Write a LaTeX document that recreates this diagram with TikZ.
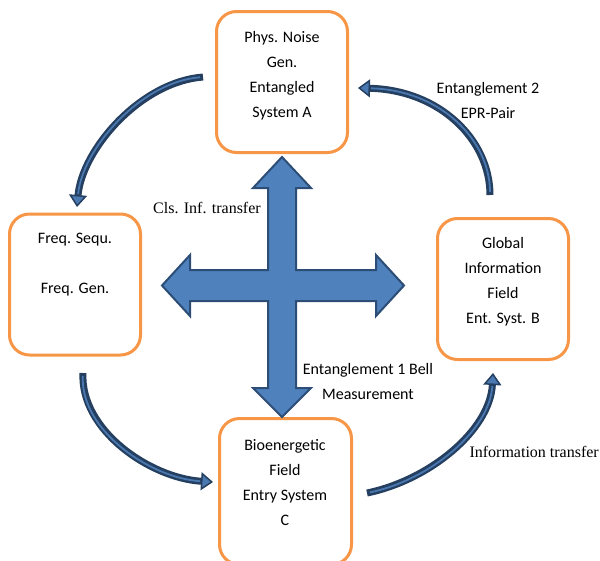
\documentclass[tikz,border=0pt]{standalone}
\usepackage{fontspec}
\setmainfont{Carlito}
\newfontfamily\serifl{Liberation Serif}
\usetikzlibrary{arrows.meta}
\definecolor{boxorange}{HTML}{F79646}
\definecolor{crossfill}{HTML}{4F81BD}
\definecolor{crossline}{HTML}{2C4D75}
\definecolor{curvedark}{HTML}{243F60}
\definecolor{curvelight}{HTML}{4A78B0}
\begin{document}
\begin{tikzpicture}[x=1pt,y=-1pt,
  box/.style={draw=boxorange, line width=3pt, rounded corners=20pt, fill=white,
    minimum width=131pt, minimum height=141pt, inner sep=0pt},
  boxtext/.style={font=\fontsize{16}{25}\selectfont, align=center, inner sep=0pt},
  lbl/.style={font=\fontsize{16}{25}\selectfont, align=center, inner sep=0pt},
  serlbl/.style={font=\serifl\fontsize{16}{19}\selectfont, inner sep=0pt},
  curvebody/.style={draw=curvedark, line width=7pt,
    -{Triangle[length=12pt,width=18pt,line width=1.5pt,fill=curvelight]}},
  curvehl/.style={draw=curvelight, line width=1.8pt, shorten >=13pt, shorten <=3pt},
]
\useasboundingbox (0,0) rectangle (600,560);

% boxes
\node[box] (A) at (282,82) {};
\node[box] (L) at (75,284.5) {};
\node[box] (R) at (503,289) {};
\node[box, minimum width=132pt, minimum height=146pt] (C) at (285.5,491.5) {};

% box texts
\node[boxtext] (tA) at (282,76) {Phys. Noise\\Gen.\\Entangled\\System A};
\node[boxtext] (tL) at (75,265) {Freq. Sequ.\\[25pt]Freq. Gen.};
\node[boxtext] (tR) at (503,282) {Global\\Information\\Field\\Ent. Syst. B};
\node[boxtext] (tC) at (285,483) {Bioenergetic\\Field\\Entry System\\C};

% labels
\node[lbl] (l2) at (488,101) {Entanglement 2\\EPR-Pair};
\node[lbl] (l1) at (368,381) {Entanglement 1 Bell\\Measurement};
\node[serlbl] (lc) at (207,208) {Cls. Inf. transfer};
\node[serlbl, anchor=east] (li) at (599,452) {Information transfer};

% big cross arrow
\draw[fill=crossfill, draw=crossline, line width=2pt, line join=miter]
  (282,157) -- (311,188) -- (296,188) -- (296,270) -- (376,270) -- (376,255)
  -- (404,285.5) -- (376,316) -- (376,301) -- (296,301) -- (296,388) -- (311,388)
  -- (282,417) -- (253,388) -- (268,388) -- (268,301) -- (190,301) -- (190,316)
  -- (162,285.5) -- (190,255) -- (190,270) -- (268,270) -- (268,188) -- (253,188) -- cycle;

% curved arrows
\coordinate (c1s) at (203,77);  \coordinate (c1e) at (77,207);
\coordinate (c2s) at (490,195); \coordinate (c2e) at (358,88);
\coordinate (c3s) at (83,373);  \coordinate (c3e) at (213,482);
\coordinate (c4s) at (367,493); \coordinate (c4e) at (493,373);

\draw[curvebody] (c1s) .. controls (140,82) and (82,150) .. (c1e);
\draw[curvehl]   (c1s) .. controls (140,82) and (82,150) .. (c1e);
\draw[curvebody] (c2s) .. controls (490,140) and (440,90) .. (c2e);
\draw[curvehl]   (c2s) .. controls (490,140) and (440,90) .. (c2e);
\draw[curvebody] (c3s) .. controls (80,430) and (150,478) .. (c3e);
\draw[curvehl]   (c3s) .. controls (80,430) and (150,478) .. (c3e);
\draw[curvebody] (c4s) .. controls (430,480) and (490,430) .. (c4e);
\draw[curvehl]   (c4s) .. controls (430,480) and (490,430) .. (c4e);
\end{tikzpicture}
\end{document}
